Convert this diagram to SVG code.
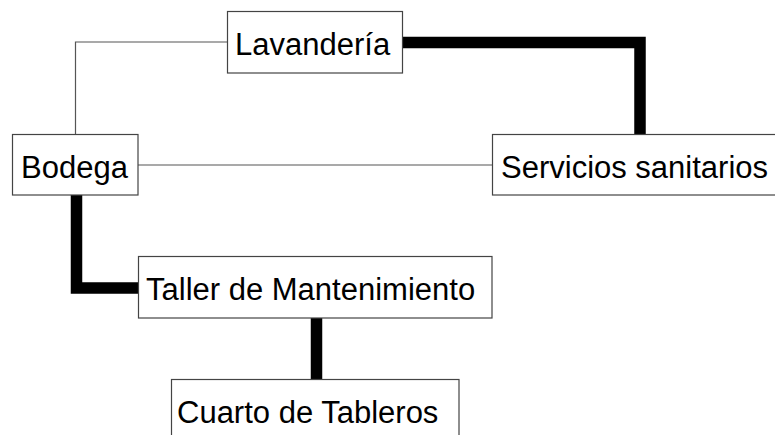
<svg xmlns="http://www.w3.org/2000/svg" width="775" height="435" viewBox="0 0 775 435">
<style>
.box{fill:#fff;stroke:#444;stroke-width:1.2}
.lbl{font-family:"Liberation Sans",Arial,sans-serif;font-size:31px;fill:#000}
.thin{fill:none;stroke:#555;stroke-width:1.2}
.thick{fill:none;stroke:#000;stroke-width:11.5;stroke-linejoin:miter}
</style>
<rect width="775" height="435" fill="#fff"/>
<g id="connectors">
<path class="thin" d="M227 42 H75.5 V134"/>
<path class="thin" d="M138 165 H492"/>
<path class="thick" d="M403 42.5 H640 V134"/>
<path class="thick" d="M76.5 195 V288 H138"/>
<path class="thick" d="M316.5 318 V379"/>
</g>
<g id="lavanderia"><rect class="box" x="227.5" y="11.5" width="175" height="61.5"/><text class="lbl" x="235" y="55">Lavandería</text></g>
<g id="bodega"><rect class="box" x="12.5" y="134.5" width="125.5" height="60.5"/><text class="lbl" x="21" y="178">Bodega</text></g>
<g id="servicios"><rect class="box" x="492.5" y="134.5" width="300" height="60.5"/><text class="lbl" x="501" y="178">Servicios sanitarios</text></g>
<g id="taller"><rect class="box" x="138.5" y="256.5" width="353.5" height="61.5"/><text class="lbl" x="146" y="300">Taller de Mantenimiento</text></g>
<g id="cuarto"><rect class="box" x="171.5" y="379.5" width="287.5" height="70"/><text class="lbl" x="177" y="423">Cuarto de Tableros</text></g>
</svg>
